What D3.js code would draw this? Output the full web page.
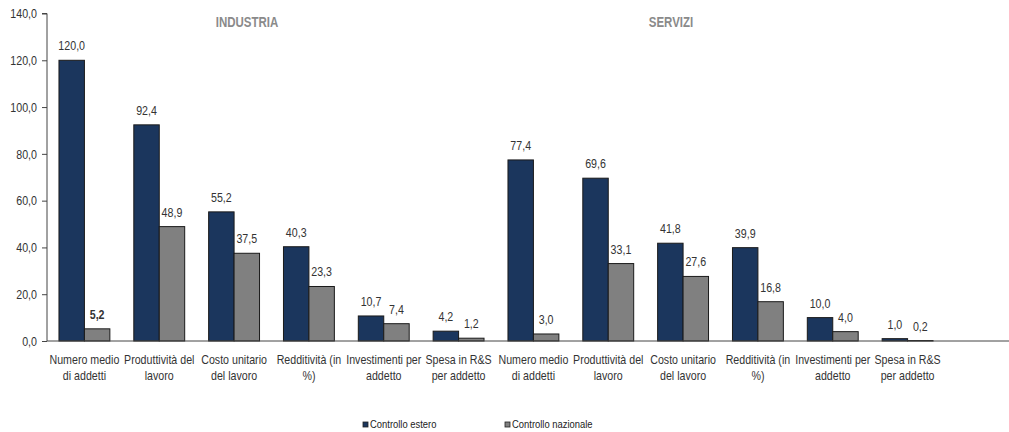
<!DOCTYPE html>
<html><head><meta charset="utf-8">
<script src="https://cdn.jsdelivr.net/npm/d3@7"></script>
<style>
body{margin:0;background:#fff;}
svg text{font-family:"Liberation Sans",Arial,sans-serif;}
</style></head>
<body><svg id="c" width="1009" height="432"></svg>
<script>
const categories = [
 ["Numero medio","di addetti"],["Produttività del","lavoro"],["Costo unitario","del lavoro"],
 ["Redditività (in","%)"],["Investimenti per","addetto"],["Spesa in R&S","per addetto"],
 ["Numero medio","di addetti"],["Produttività del","lavoro"],["Costo unitario","del lavoro"],
 ["Redditività (in","%)"],["Investimenti per","addetto"],["Spesa in R&S","per addetto"]
];
const sectors = ["INDUSTRIA","SERVIZI"];
const seriesNames = ["Controllo estero","Controllo nazionale"];
const estero =    [120.0, 92.4, 55.2, 40.3, 10.7, 4.2, 77.4, 69.6, 41.8, 39.9, 10.0, 1.0];
const nazionale = [5.2, 48.9, 37.5, 23.3, 7.4, 1.2, 3.0, 33.1, 27.6, 16.8, 4.0, 0.2];
const yTicks = [0,20,40,60,80,100,120,140];

const svg = d3.select("#c");
const colors = ["#1b365d","#808080"];
const SX = 0.82;
const x0 = 47, x1 = 945, yTop = 13.5, yBot = 341;
const x = d3.scaleBand().domain(d3.range(categories.length)).range([x0,x1]).paddingInner(0.32).paddingOuter(0.16);
const xs = d3.scaleBand().domain([0,1]).range([0,x.bandwidth()]);
const y = d3.scaleLinear().domain([0,140]).range([yBot,yTop]);
const fmt = v => d3.format(".1f")(v).replace(".",",");

// narrow text helper
function ntext(g, px, py, str, opts){
  const t = g.append("text").attr("transform",`translate(${px},${py}) scale(${opts.sx||SX},1)`)
    .attr("text-anchor",opts.anchor||"middle").attr("font-size",opts.size||13)
    .attr("fill",opts.fill||"#333").attr("font-weight",opts.weight||"normal");
  if(opts.dy) t.attr("dy",opts.dy);
  t.text(str);
  return t;
}

// y axis
const ya = svg.append("g").attr("transform",`translate(${x0},0)`)
  .call(d3.axisLeft(y).tickValues(yTicks).tickSize(5).tickFormat(""));
ya.select(".domain").attr("stroke","#444").attr("d",`M-5,${yTop}H0V${yBot}`);
ya.selectAll(".tick line").attr("stroke","#444");
const yl = svg.append("g");
yTicks.forEach(v=>ntext(yl, 37, y(v), fmt(v), {anchor:"end", dy:"0.36em"}));

const data = [estero, nazionale];
data.forEach((vals,s)=>{
  svg.append("g").selectAll("rect").data(vals).join("rect")
    .attr("x",(d,i)=>x(i)+xs(s)).attr("width",xs.bandwidth())
    .attr("y",d=>y(d)).attr("height",d=>yBot-y(d))
    .attr("fill",colors[s]).attr("stroke","#1a1a1a").attr("stroke-width",1);
  const lg = svg.append("g");
  vals.forEach((d,i)=>ntext(lg, x(i)+xs(s)+xs.bandwidth()/2, y(d)-10, fmt(d),
    {weight:(s===1&&i===0)?"bold":"normal"}));
});

// baseline
svg.append("line").attr("x1",x0).attr("x2",1009).attr("y1",yBot).attr("y2",yBot).attr("stroke","#444");

// category labels
const cg = svg.append("g");
categories.forEach((d,i)=>d.forEach((line,k)=>ntext(cg, x(i)+x.bandwidth()/2, 364+k*16, line, {})));

// sector titles
const titleX = [247, 671];
const tg = svg.append("g");
sectors.forEach((d,i)=>ntext(tg, titleX[i], 27, d, {size:14, weight:"bold", fill:"#8a8a8a"}));

// legend
const legX = [363, 505];
const lgd = svg.append("g").selectAll("g").data(seriesNames).join("g")
  .attr("transform",(d,i)=>`translate(${legX[i]},422)`);
lgd.append("rect").attr("width",5).attr("height",5).attr("fill",(d,i)=>colors[i]).attr("stroke","#222").attr("stroke-width",0.8);
lgd.each(function(d){ ntext(d3.select(this), 7, 6, d, {anchor:"start", size:11.5, fill:"#222"}); });
</script></body></html>
